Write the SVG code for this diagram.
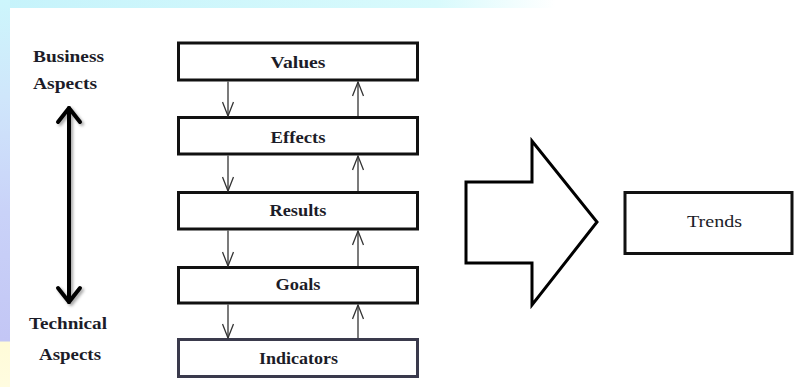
<svg xmlns="http://www.w3.org/2000/svg" width="794" height="387" viewBox="0 0 794 387">
<defs>
<linearGradient id="topg" x1="0" y1="0" x2="1" y2="0">
<stop offset="0" stop-color="#c6f3fb"/>
<stop offset="0.55" stop-color="#d8fafc"/>
<stop offset="0.7" stop-color="#ffffff"/>
</linearGradient>
<linearGradient id="leftg" x1="0" y1="0" x2="0" y2="1">
<stop offset="0" stop-color="#cdf6fc"/>
<stop offset="0.25" stop-color="#cfe6fb"/>
<stop offset="0.55" stop-color="#c9d2f8"/>
<stop offset="0.88" stop-color="#c3c6f5"/>
<stop offset="0.885" stop-color="#fffbd8"/>
<stop offset="1" stop-color="#fffce0"/>
</linearGradient>
<marker id="ah" viewBox="0 0 16 12" refX="15" refY="6" markerWidth="16" markerHeight="12" markerUnits="userSpaceOnUse" orient="auto">
<path d="M1,0.5 L15,6 L1,11.5" fill="none" stroke="#333" stroke-width="1.3"/>
</marker>
<filter id="sh" x="-50%" y="-10%" width="200%" height="120%">
<feDropShadow dx="2" dy="2" stdDeviation="1.5" flood-color="#000" flood-opacity="0.35"/>
</filter>
<style>
.box{fill:#fff;stroke:#111;stroke-width:3}
text{font-family:'Liberation Serif','Times New Roman','DejaVu Serif',serif;font-size:16.5px;fill:#1c1c28}
.lbl{font-weight:bold;text-anchor:middle}
.side{font-weight:bold}
.con{stroke:#333;stroke-width:1.3;fill:none;marker-end:url(#ah)}
</style>
</defs>
<rect x="0" y="0" width="794" height="387" fill="#fff"/>
<rect x="0" y="0" width="794" height="8" fill="url(#topg)"/>
<rect x="0" y="0" width="10" height="387" fill="url(#leftg)"/>

<g id="side-labels">
<text class="side" x="33" y="62" textLength="71" lengthAdjust="spacingAndGlyphs">Business</text>
<text class="side" x="33" y="89" textLength="64" lengthAdjust="spacingAndGlyphs">Aspects</text>
<text class="side" x="29" y="329" textLength="78" lengthAdjust="spacingAndGlyphs">Technical</text>
<text class="side" x="39" y="360" textLength="62" lengthAdjust="spacingAndGlyphs">Aspects</text>
</g>

<g id="scale-arrow" filter="url(#sh)" stroke="#000" stroke-width="4" fill="none" stroke-linecap="round" stroke-linejoin="round">
<line x1="69" y1="108" x2="69" y2="302"/>
<path d="M58,122 L69,108 L80,122"/>
<path d="M58,288 L69,302 L80,288"/>
</g>

<g id="node-values">
<rect class="box" x="178.5" y="43" width="239" height="37"/>
<text class="lbl" x="298" y="68" textLength="55" lengthAdjust="spacingAndGlyphs">Values</text>
</g>
<g id="node-effects">
<rect class="box" x="178.5" y="117.5" width="239" height="36.5"/>
<text class="lbl" x="298" y="143" textLength="55" lengthAdjust="spacingAndGlyphs">Effects</text>
</g>
<g id="node-results">
<rect class="box" x="178.5" y="192.5" width="239" height="36.5"/>
<text class="lbl" x="298" y="216" textLength="57" lengthAdjust="spacingAndGlyphs">Results</text>
</g>
<g id="node-goals">
<rect class="box" x="178.5" y="267.5" width="239" height="35.5"/>
<text class="lbl" x="298" y="290" textLength="45" lengthAdjust="spacingAndGlyphs">Goals</text>
</g>
<g id="node-indicators">
<rect x="178.5" y="339.5" width="239" height="37" fill="#fff" stroke="#3a3a4c" stroke-width="3"/>
<text class="lbl" x="298.5" y="364" textLength="79" lengthAdjust="spacingAndGlyphs">Indicators</text>
</g>

<g id="node-block-arrow">
<polygon points="466,182 532,182 532,141 597,222 532,305 532,263 466,263" fill="#fff" stroke="#000" stroke-width="3" stroke-linejoin="miter"/>
</g>

<g id="node-trends">
<rect class="box" x="625" y="192.5" width="167" height="61"/>
<text x="714.5" y="227" text-anchor="middle" textLength="55" lengthAdjust="spacingAndGlyphs">Trends</text>
</g>

<g id="connectors">
<line class="con" x1="228" y1="81.5" x2="228" y2="116"/>
<line class="con" x1="358" y1="116" x2="358" y2="82"/>
<line class="con" x1="228" y1="155.5" x2="228" y2="191"/>
<line class="con" x1="358" y1="191" x2="358" y2="156"/>
<line class="con" x1="228" y1="230.5" x2="228" y2="266"/>
<line class="con" x1="358" y1="266" x2="358" y2="231"/>
<line class="con" x1="228" y1="304.5" x2="228" y2="338"/>
<line class="con" x1="358" y1="338" x2="358" y2="305"/>
</g>
</svg>
